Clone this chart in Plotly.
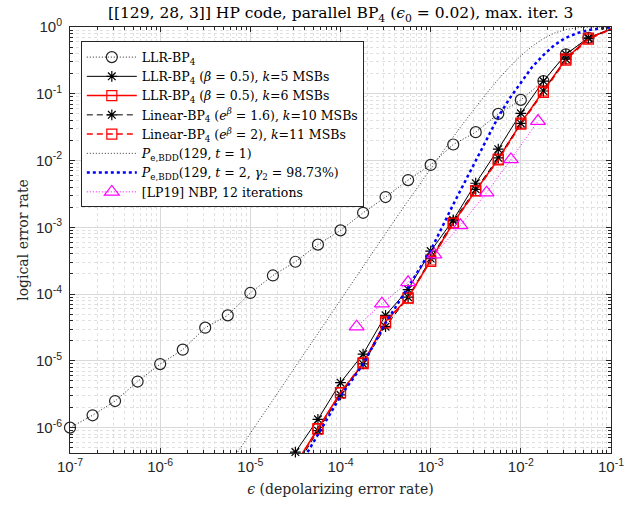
import plotly.graph_objects as go

# ---------------- data ----------------
eps_llr = [1e-7, 1.78e-7, 3.16e-7, 5.62e-7, 1e-6, 1.78e-6, 3.16e-6, 5.62e-6,
           1e-5, 1.78e-5, 3.16e-5, 5.62e-5, 1e-4, 1.78e-4, 3.16e-4, 5.62e-4,
           1e-3, 1.78e-3, 3.16e-3, 5.62e-3, 1e-2, 1.78e-2, 3.16e-2, 5.62e-2, 1e-1]
ler_llr = [1.0e-6, 1.53e-6, 2.5e-6, 4.9e-6, 8.95e-6, 1.47e-5, 3.14e-5, 4.8e-5,
           1.04e-4, 1.9e-4, 3.05e-4, 5.5e-4, 9.0e-4, 1.65e-3, 2.84e-3, 5.1e-3,
           8.6e-3, 1.74e-2, 2.66e-2, 5.0e-2, 8.1e-2, 0.155, 0.39, 0.69, 0.93]

eps_q = [3.16e-5, 5.62e-5, 1e-4, 1.78e-4, 3.16e-4, 5.62e-4, 1e-3, 1.78e-3,
         3.16e-3, 5.62e-3, 1e-2, 1.78e-2, 3.16e-2, 5.62e-2, 1e-1]
ler_k5 = [4.3e-7, 1.33e-6, 4.72e-6, 1.26e-5, 4.8e-5, 1.17e-4, 4.4e-4, 1.29e-3,
          4.57e-3, 1.48e-2, 5.1e-2, 0.155, 0.39, 0.69, 0.933]
ler_k6 = [2.8e-7, 9.7e-7, 3.34e-6, 9.1e-6, 3.9e-5, 8.8e-5, 3.24e-4, 1.17e-3,
          3.55e-3, 1.05e-2, 3.63e-2, 0.11, 0.334, 0.684, 0.923]
ler_lin16 = [2.5e-7, 9.0e-7, 3.1e-6, 9.0e-6, 3.25e-5, 9.0e-5, 3.4e-4, 1.25e-3,
             3.7e-3, 1.1e-2, 3.6e-2, 0.11, 0.33, 0.67, 0.93]
ler_lin2 = [2.7e-7, 9.5e-7, 3.3e-6, 9.3e-6, 3.7e-5, 8.7e-5, 3.1e-4, 1.15e-3,
            3.5e-3, 1.02e-2, 3.5e-2, 0.105, 0.32, 0.66, 0.92]

eps_bdd1 = [5.62e-6, 1e-5, 1.78e-5, 3.16e-5, 5.62e-5, 1e-4, 1.78e-4, 3.16e-4,
            5.62e-4, 1e-3, 1.78e-3, 2.37e-3, 3.16e-3, 4.22e-3, 5.62e-3, 7.5e-3,
            1e-2, 1.33e-2, 1.78e-2, 2.37e-2, 3.16e-2, 4.22e-2, 5.62e-2, 7.5e-2, 1e-1]
ler_bdd1 = [2.6e-7, 8.25e-7, 2.61e-6, 8.22e-6, 2.6e-5, 8.19e-5, 2.57e-4, 8.1e-4,
            2.5e-3, 7.64e-3, 2.26e-2, 3.82e-2, 6.37e-2, 0.1034, 0.1647, 0.253,
            0.370, 0.515, 0.670, 0.813, 0.917, 0.974, 0.995, 0.9995, 0.99998]

eps_bdd2 = [3.16e-5, 5.62e-5, 1e-4, 1.78e-4, 3.16e-4, 5.62e-4, 1e-3, 1.78e-3,
            3.16e-3, 4.22e-3, 5.62e-3, 7.5e-3, 1e-2, 1.33e-2, 1.78e-2, 2.37e-2,
            3.16e-2, 4.22e-2, 5.62e-2, 7.5e-2, 1e-1]
ler_bdd2 = [2.1e-7, 7.9e-7, 2.95e-6, 8.9e-6, 3.7e-5, 1.26e-4, 4.5e-4, 2.2e-3,
            1.0e-2, 2.2e-2, 4.5e-2, 8.5e-2, 0.146, 0.25, 0.38, 0.54,
            0.69, 0.81, 0.90, 0.955, 0.99]

eps_lp19 = [1.51e-4, 2.88e-4, 5.62e-4, 1.1e-3, 2.14e-3, 4.17e-3, 7.76e-3, 1.55e-2]
ler_lp19 = [3.25e-5, 7.2e-5, 1.5e-4, 3.9e-4, 1.07e-3, 3.3e-3, 1.04e-2, 3.9e-2]

x_ticks = [1e-7, 1e-6, 1e-5, 1e-4, 1e-3, 1e-2, 1e-1]
x_tick_text = ["10<sup>-7</sup>", "10<sup>-6</sup>", "10<sup>-5</sup>", "10<sup>-4</sup>",
               "10<sup>-3</sup>", "10<sup>-2</sup>", "10<sup>-1</sup>"]
y_ticks = [1e-6, 1e-5, 1e-4, 1e-3, 1e-2, 1e-1, 1e0]
y_tick_text = ["10<sup>-6</sup>", "10<sup>-5</sup>", "10<sup>-4</sup>", "10<sup>-3</sup>",
               "10<sup>-2</sup>", "10<sup>-1</sup>", "10<sup>0</sup>"]

Y_MIN_LOG = -6.38
Y_MIN = 10 ** Y_MIN_LOG

names = [
    "LLR-BP<sub>4</sub>",
    "LLR-BP<sub>4</sub> (<i>β</i> = 0.5), <i>k</i>=5 MSBs",
    "LLR-BP<sub>4</sub> (<i>β</i> = 0.5), <i>k</i>=6 MSBs",
    "Linear-BP<sub>4</sub> (<i>e</i><sup><i>β</i></sup> = 1.6), <i>k</i>=10 MSBs",
    "Linear-BP<sub>4</sub> (<i>e</i><sup><i>β</i></sup> = 2), <i>k</i>=11 MSBs",
    "<i>P</i><sub>e,BDD</sub>(129, <i>t</i> = 1)",
    "<i>P</i><sub>e,BDD</sub>(129, <i>t</i> = 2, <i>γ</i><sub>2</sub> = 98.73%)",
    "[LP19] NBP, 12 iterations",
]

DOT = "1px,2px"
DASH = "6px,4px"

fig = go.Figure()


def add_series(xs, ys, name, color, dash, width, symbol, msize, group):
    # segment that leaves the plotted range: line only (clipped by the axes)
    inside = [i for i, v in enumerate(ys) if v >= Y_MIN * 0.999]
    first = inside[0]
    if first > 0:
        fig.add_trace(go.Scatter(
            x=xs[first - 1:first + 1], y=ys[first - 1:first + 1], mode="lines",
            line=dict(color=color, dash=dash, width=width),
            showlegend=False, hoverinfo="skip", legendgroup=group))
    fig.add_trace(go.Scatter(
        x=xs[first:], y=ys[first:], mode="lines+markers", name=name,
        legendgroup=group,
        line=dict(color=color, dash=dash, width=width),
        marker=dict(symbol=symbol, size=msize, color=color,
                    line=dict(color=color, width=1.2)),
        cliponaxis=False))


add_series(eps_llr, ler_llr, names[0], "#222222", DOT, 1, "circle-open", 11, "g0")
add_series(eps_q, ler_k5, names[1], "black", "solid", 1, "asterisk-open", 9, "g1")
add_series(eps_q, ler_k6, names[2], "#ff0000", "solid", 1.5, "square-open", 10, "g2")
add_series(eps_q, ler_lin16, names[3], "black", DASH, 1, "asterisk-open", 9, "g3")
add_series(eps_q, ler_lin2, names[4], "#ff0000", DASH, 1.5, "square-open", 10, "g4")

fig.add_trace(go.Scatter(x=eps_bdd1, y=ler_bdd1, mode="lines", name=names[5],
                         line=dict(color="#333333", dash=DOT, width=1)))
fig.add_trace(go.Scatter(x=eps_bdd2, y=ler_bdd2, mode="lines", name=names[6],
                         line=dict(color="#0000ff", dash="dot", width=2.5)))
fig.add_trace(go.Scatter(x=eps_lp19, y=ler_lp19, mode="lines+markers", name=names[7],
                         line=dict(color="#ff00ff", dash=DOT, width=1),
                         marker=dict(symbol="triangle-up-open", size=13, color="#ff00ff",
                                     line=dict(color="#ff00ff", width=1.2)),
                         cliponaxis=False))

serif = "DejaVu Serif"
sans = "Liberation Sans"
axis_col = "#262626"
grid_major = "#d9d9d9"
grid_minor = "#e0e0e0"

common_axis = dict(
    type="log", showgrid=True, gridcolor=grid_major, gridwidth=1, automargin=False,
    ticks="inside", ticklen=5, tickcolor=axis_col, mirror="allticks",
    showline=True, linecolor=axis_col, linewidth=1, zeroline=False,
    tickfont=dict(family=sans, size=15, color=axis_col),
    minor=dict(dtick="D1", ticks="inside", ticklen=3, tickcolor=axis_col,
               showgrid=True, gridcolor=grid_minor, griddash="dot", gridwidth=1),
)

fig.update_layout(
    width=625, height=514,
    margin=dict(l=70, r=14, t=27, b=61, autoexpand=False),
    paper_bgcolor="white", plot_bgcolor="white",
    title=dict(
        text="[[129, 28, 3]] HP code, parallel BP<sub>4</sub> (<i>ϵ</i><sub>0</sub> = 0.02), max. iter. 3",
        x=0.545, xanchor="center", y=0.975, yanchor="middle",
        font=dict(family=serif, size=15.5, color="black")),
    xaxis=dict(common_axis, range=[-7, -1], tickvals=x_ticks, ticktext=x_tick_text,
               title=dict(text="<i>ϵ</i> (depolarizing error rate)",
                          font=dict(family=serif, size=14, color=axis_col), standoff=10)),
    yaxis=dict(common_axis, range=[Y_MIN_LOG, 0], tickvals=y_ticks, ticktext=y_tick_text,
               ticklabelstandoff=4,
               title=dict(text="logical error rate",
                          font=dict(family=serif, size=14, color=axis_col), standoff=4)),
    legend=dict(x=0.02, y=0.966, xanchor="left", yanchor="top",
                bgcolor="white", bordercolor=axis_col, borderwidth=1,
                font=dict(family=serif, size=12.5, color="black"),
                itemwidth=50, tracegroupgap=0),
    showlegend=True,
)

fig.write_html("out.html")
